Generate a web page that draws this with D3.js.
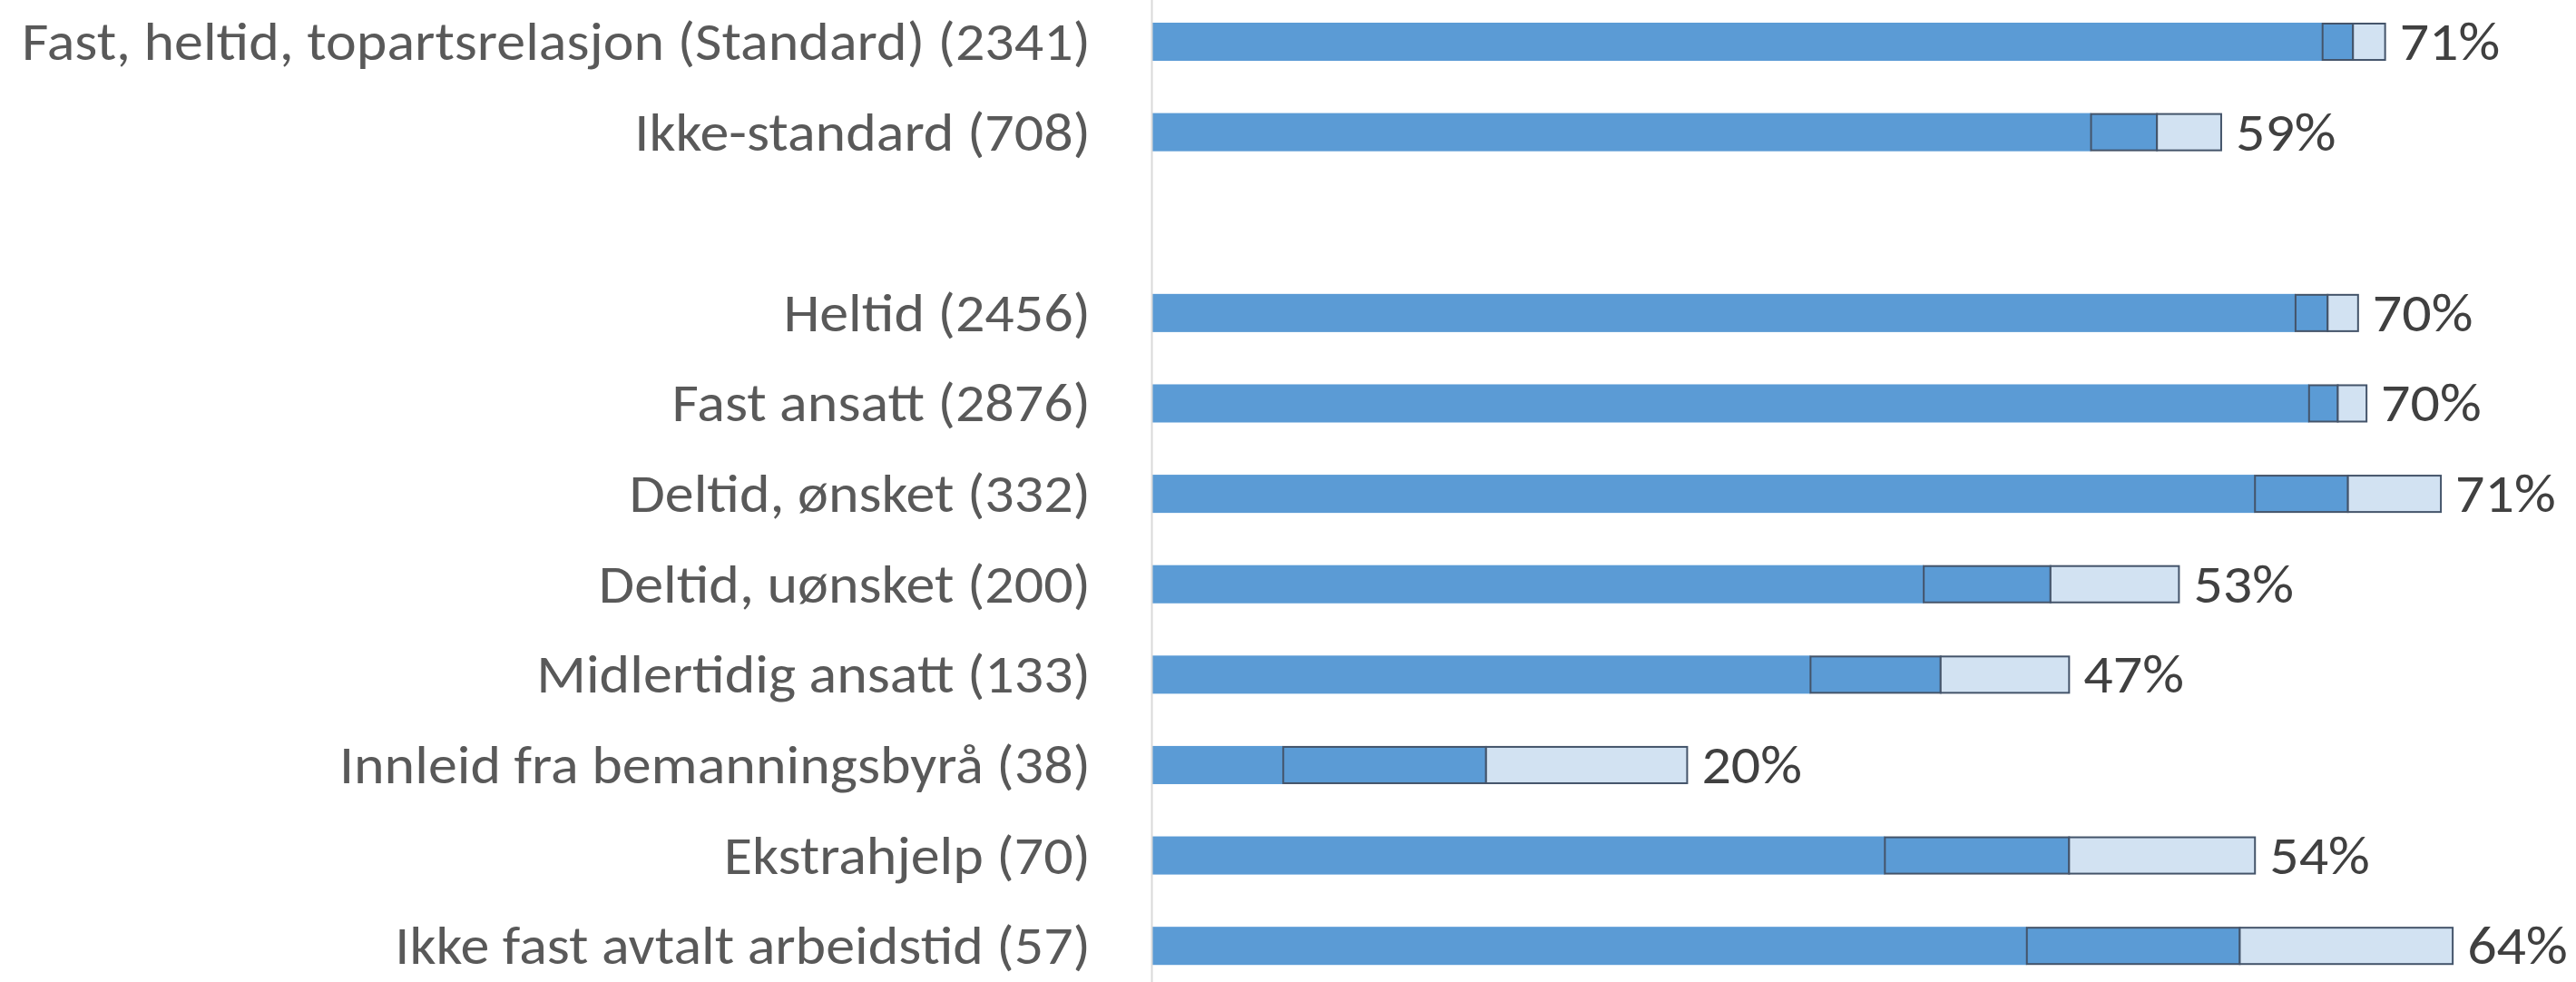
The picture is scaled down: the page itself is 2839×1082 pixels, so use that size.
<!DOCTYPE html>
<html>
<head>
<meta charset="utf-8">
<script src="https://cdn.jsdelivr.net/npm/d3@7"></script>
<style>
  html, body { margin: 0; padding: 0; background: #ffffff; }
  svg { display: block; }
</style>
</head>
<body>
<svg id="chart" width="2839" height="1082"></svg>
<script>
// ---- Data ----
const categories = [
  "Fast, heltid, topartsrelasjon (Standard) (2341)",
  "Ikke-standard (708)",
  "",
  "Heltid (2456)",
  "Fast ansatt (2876)",
  "Deltid, ønsket (332)",
  "Deltid, uønsket (200)",
  "Midlertidig ansatt (133)",
  "Innleid fra bemanningsbyrå (38)",
  "Ekstrahjelp (70)",
  "Ikke fast avtalt arbeidstid (57)"
];
const estimate = [71.1, 59.5, null, 69.6, 70.2, 70.8, 53.2, 46.7, 19.8, 54.3, 64.4];
const lower    = [69.3, 55.6, null, 67.7, 68.5, 65.3, 45.7, 39.0,  7.8, 43.4, 51.8];
const upper    = [73.0, 63.3, null, 71.4, 71.9, 76.3, 60.8, 54.3, 31.7, 65.3, 77.0];
const valueLabels = ["71%", "59%", "", "70%", "70%", "71%", "53%", "47%", "20%", "54%", "64%"];

// ---- Layout ----
const axisX = 1269;
const svg = d3.select("#chart");
const FONT = "Carlito, Calibri, Lato, 'Open Sans', sans-serif";
const FS = 59;

const x = d3.scaleLinear().domain([0, 80]).range([axisX, axisX + 1490]);
const idx = d3.range(categories.length);
const y = d3.scaleBand().domain(idx).range([-3.8, 1092]).paddingInner(0.578).paddingOuter(0.289);

const rows = idx.filter(i => estimate[i] !== null).map(i => ({
  i, est: estimate[i], lo: lower[i], hi: upper[i], lab: valueLabels[i]
}));

// base bars
svg.append("g").selectAll("rect").data(rows).join("rect")
  .attr("x", x(0)).attr("y", d => y(d.i))
  .attr("width", d => x(d.lo) - x(0)).attr("height", y.bandwidth())
  .attr("fill", "#5B9BD5");

// lower CI segment
svg.append("g").selectAll("rect").data(rows).join("rect")
  .attr("x", d => x(d.lo)).attr("y", d => y(d.i) + 1)
  .attr("width", d => x(d.est) - x(d.lo)).attr("height", y.bandwidth() - 2)
  .attr("fill", "#5B9BD5").attr("stroke", "#44546A").attr("stroke-width", 2);

// upper CI segment
svg.append("g").selectAll("rect").data(rows).join("rect")
  .attr("x", d => x(d.est)).attr("y", d => y(d.i) + 1)
  .attr("width", d => x(d.hi) - x(d.est)).attr("height", y.bandwidth() - 2)
  .attr("fill", "#D2E2F2").attr("stroke", "#44546A").attr("stroke-width", 2);

// axis
const axis = d3.axisLeft(y).tickSize(0).tickPadding(axisX - 1202).tickFormat(i => categories[i]);
const gA = svg.append("g").attr("transform", `translate(${axisX},0)`).call(axis);
gA.select(".domain").attr("stroke", "#D9D9D9").attr("stroke-width", 2);
gA.selectAll("text")
  .attr("font-family", FONT).attr("font-size", FS).attr("fill", "#595959")
  .attr("dy", null).attr("y", 20).attr("dominant-baseline", "alphabetic");

// value labels
const vl = svg.append("g").selectAll("text").data(rows).join("text")
  .attr("x", d => x(d.hi) + 16)
  .attr("y", d => y(d.i) + y.bandwidth() / 2 + 20)
  .attr("font-family", FONT).attr("font-size", FS).attr("fill", "#404040")
  .text(d => d.lab);

// horizontal adjustment to match the original face's proportions
const longest = gA.selectAll("text").nodes().find(n => n.textContent === categories[0]);
const natural = longest.getComputedTextLength();
const s = 1178 / natural;
gA.selectAll("text").each(function() {
  const w = this.getComputedTextLength();
  if (w > 0) d3.select(this).attr("textLength", w * s).attr("lengthAdjust", "spacingAndGlyphs");
});
vl.each(function() {
  const w = this.getComputedTextLength();
  d3.select(this).attr("textLength", w * s).attr("lengthAdjust", "spacingAndGlyphs");
});
</script>
</body>
</html>
